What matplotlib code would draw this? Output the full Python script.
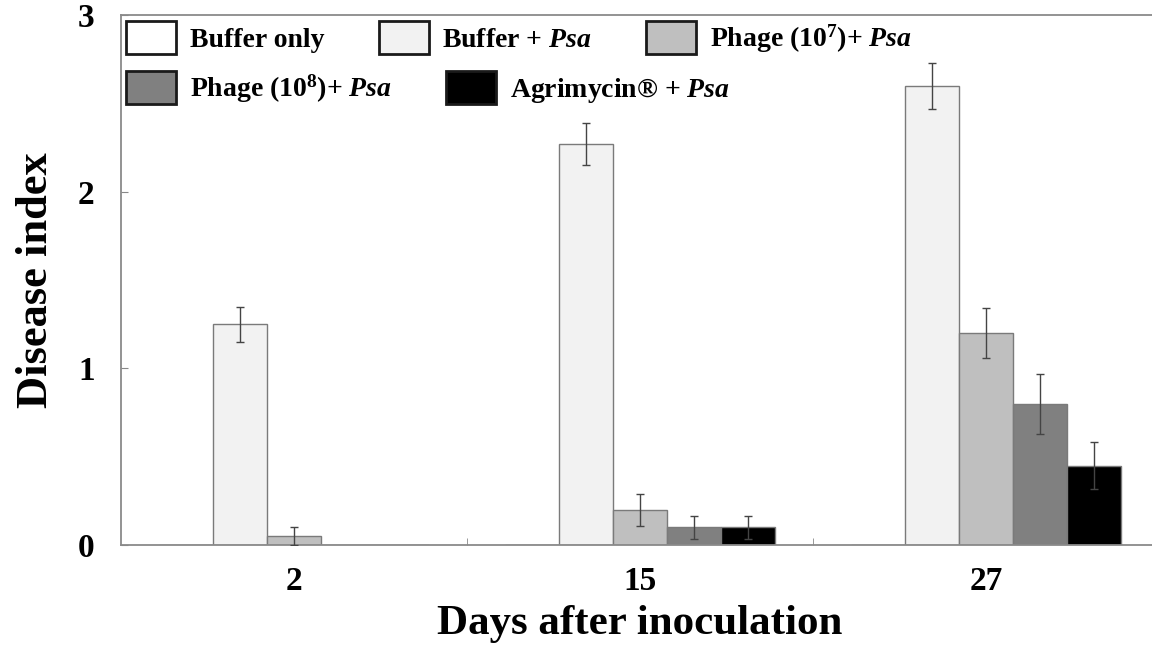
import matplotlib
matplotlib.use("Agg")
import matplotlib.pyplot as plt
from matplotlib.patches import Patch
import numpy as np

# ---- data ----
days = ["2", "15", "27"]
series_names = ["Buffer only", "Buffer + $\\mathit{Psa}$", "Phage (10$^{7}$)+ $\\mathit{Psa}$",
                "Phage (10$^{8}$)+ $\\mathit{Psa}$", "Agrimycin® + $\\mathit{Psa}$"]
buffer_only = [0.0, 0.0, 0.0]
buffer_psa = [1.25, 2.27, 2.60]
phage7_psa = [0.05, 0.20, 1.20]
phage8_psa = [0.0, 0.10, 0.80]
agrimycin_psa = [0.0, 0.10, 0.45]
err_buffer_only = [0.0, 0.0, 0.0]
err_buffer_psa = [0.10, 0.12, 0.13]
err_phage7 = [0.05, 0.09, 0.14]
err_phage8 = [0.0, 0.065, 0.17]
err_agrimycin = [0.0, 0.065, 0.135]
colors = ["#ffffff", "#f2f2f2", "#bfbfbf", "#808080", "#000000"]

values = [buffer_only, buffer_psa, phage7_psa, phage8_psa, agrimycin_psa]
errors = [err_buffer_only, err_buffer_psa, err_phage7, err_phage8, err_agrimycin]

plt.rcParams['font.family'] = ['Liberation Serif', 'DejaVu Serif']
plt.rcParams['font.weight'] = 'bold'
plt.rcParams['mathtext.fontset'] = 'custom'
plt.rcParams['mathtext.rm'] = 'Liberation Serif:bold'
plt.rcParams['mathtext.it'] = 'Liberation Serif:bold:italic'
plt.rcParams['mathtext.bf'] = 'Liberation Serif:bold'

W, H = 1152, 647
fig = plt.figure(figsize=(W / 100, H / 100), dpi=100)
ax = fig.add_axes([121 / W, 1 - 545 / H, (1159 - 121) / W, (545 - 15) / H])

x = np.arange(len(days))
bw = 0.156
for k, (vals, errs, c) in enumerate(zip(values, errors, colors)):
    pos = x + (k - 2) * bw
    ax.bar(pos, vals, width=bw, color=c, edgecolor="#7a7a7a", linewidth=1.0, zorder=2)
    mask = np.array(errs) > 0
    if mask.any():
        ax.errorbar(pos[mask], np.array(vals)[mask], yerr=np.array(errs)[mask], fmt='none',
                    ecolor="#444444", elinewidth=1.0, capsize=3, capthick=1.0, zorder=3)

ax.set_xlim(-0.5, 2.5)
ax.set_ylim(0, 3)
ax.set_yticks([0, 1, 2, 3])
ax.set_yticklabels(["0", "1", "2", "3"], fontsize=24, fontweight='bold')
ax.set_xticks(x)
ax.set_xticklabels(days, fontsize=24, fontweight='bold')
ax.set_xticks([0.5, 1.5], minor=True)
ax.tick_params(axis='x', which='major', length=0, pad=15)
ax.tick_params(axis='x', which='minor', direction='in', length=5, color='#888888')
ax.tick_params(axis='y', which='major', direction='in', length=5, color='#888888', pad=19)

for side in ['left', 'bottom', 'top']:
    ax.spines[side].set_color('#8a8a8a')
    ax.spines[side].set_linewidth(1.3)
ax.spines['right'].set_visible(False)

ax.set_xlabel("Days after inoculation", fontsize=31, fontweight='bold', labelpad=6)
ax.set_ylabel("Disease index", fontsize=32, fontweight='bold', labelpad=16)

handles = [Patch(facecolor=c, edgecolor="#1a1a1a", linewidth=2.0) for c in colors]
common = dict(frameon=False, borderpad=0, borderaxespad=0, handlelength=1.8, handleheight=1.45,
              handletextpad=0.5, columnspacing=1.95, prop={'size': 20, 'weight': 'bold'},
              loc='upper left', bbox_transform=fig.transFigure)
leg1 = fig.legend(handles[:3], series_names[:3], ncol=3, bbox_to_anchor=(126 / W, 1 - 21 / H), **common)
leg2 = fig.legend(handles[3:], series_names[3:], ncol=2, bbox_to_anchor=(126 / W, 1 - 71 / H), **common)

fig.savefig("out.png", dpi=100)
